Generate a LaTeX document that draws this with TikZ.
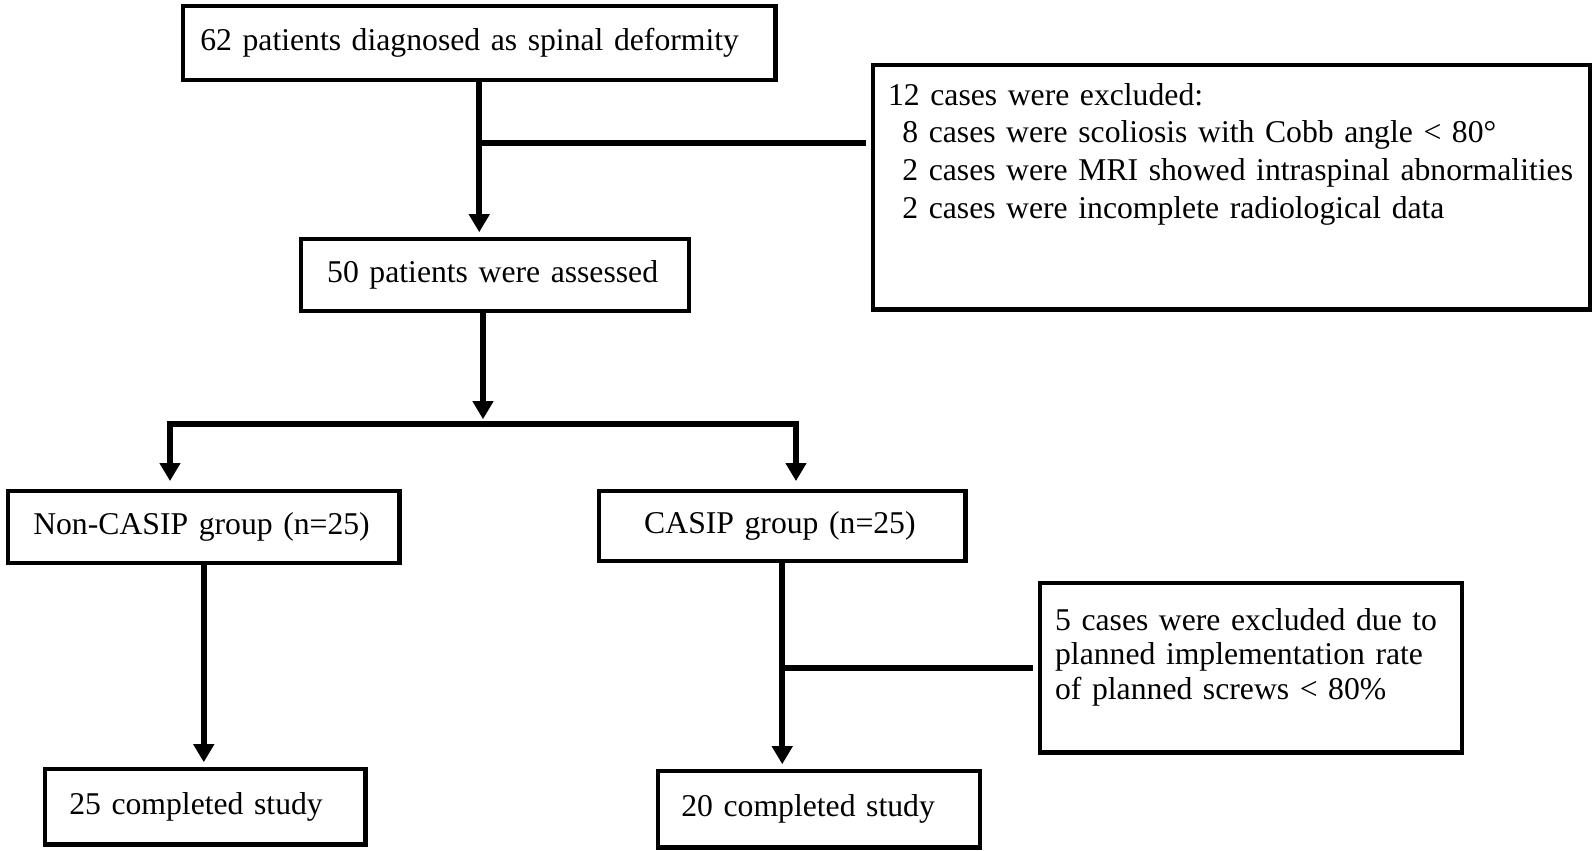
\documentclass[tikz,border=0pt]{standalone}
\usepackage{fontspec}
\setmainfont{Liberation Serif}
\usepackage{tikz}
\usetikzlibrary{arrows.meta}

\begin{document}
\begin{tikzpicture}[->,>={Triangle[length=5.7pt,width=6.3pt]},shorten >=1.5pt,
                    line width=1.8pt,x=0.3155pt,y=-0.3155pt]
  \tikzstyle{stage}=[draw=black,line width=1.4pt,anchor=north west,align=left,
                     inner ysep=5.7pt,font=\fontsize{10}{11.9}\selectfont]
  \useasboundingbox (0,0) rectangle (1594,851);

  \node[stage,text width=176pt,inner xsep=5.4pt,minimum height=23.3pt]   (top)      at (181,4)   {62 patients diagnosed as spinal deformity};
  \node[stage,text width=216.8pt,inner xsep=4.7pt,text height=6.94pt,text depth=58.7pt] (excl1) at (871,63)
       {12 cases were excluded:\\
        \hspace*{0.45em}8 cases were scoliosis with Cobb angle < 80°\\
        \hspace*{0.45em}2 cases were MRI showed intraspinal abnormalities\\
        \hspace*{0.45em}2 cases were incomplete radiological data};
  \node[stage,text width=106pt,inner xsep=8.2pt,minimum height=22.7pt]   (assess)   at (299,237) {50 patients were assessed};
  \node[stage,text width=107.6pt,inner xsep=7.9pt,minimum height=22.7pt] (noncasip) at (6,489)   {Non-CASIP group (n=25)};
  \node[stage,text width=87.1pt,inner xsep=14.2pt,minimum height=22.1pt] (casip)    at (597,489) {CASIP group (n=25)};
  \node[stage,text width=123.7pt,inner xsep=4.7pt,text height=9.15pt,text depth=32.8pt,
        font=\fontsize{10}{10.9}\selectfont] (excl2) at (1038,581)
       {5 cases were excluded due to\\
        planned implementation rate\\
        of planned screws < 80\%};
  \node[stage,text width=85.8pt,inner xsep=7.6pt,minimum height=23.7pt]  (done25)   at (43,767)  {25 completed study};
  \node[stage,text width=87pt,inner xsep=7.3pt,minimum height=24pt]      (done20)   at (656,769) {20 completed study};

  \coordinate (j1)    at (top.south |- 0,143);
  \coordinate (split) at (483,424);
  \coordinate (bl)    at (170,424);
  \coordinate (br)    at (796,424);

  \path (top.south) edge (top.south |- assess.north)
        (j1) edge[-] (j1 -| excl1.west)
        (split |- assess.south) edge (split)
        (noncasip.south) edge (noncasip.south |- done25.north)
        (casip.south) edge (casip.south |- done20.north)
        (casip.south |- excl2.west) edge[-] (excl2.west);
  \draw[shorten >=2.5pt] (split) -| (bl |- noncasip.north);
  \draw[shorten >=2.5pt] (split) -| (br |- casip.north);
\end{tikzpicture}
\end{document}
